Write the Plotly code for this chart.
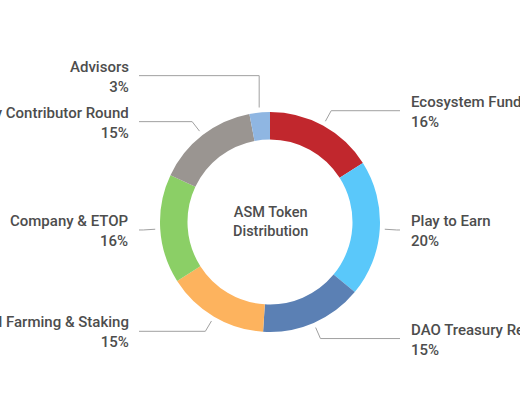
import math
import plotly.graph_objs as go

labels = ["Ecosystem Fund", "Play to Earn", "DAO Treasury Reserve",
          "Yield Farming & Staking", "Company & ETOP",
          "Early Contributor Round", "Advisors"]
shares = [16, 20, 15, 15, 16, 15, 3]
colors = ["#C1272D", "#5AC8FA", "#5B80B4", "#FDB35E", "#8BCF66", "#9A9591", "#8FB6E2"]

W, H = 520, 400
cx, cy, R = 270, 222, 110
font_main = "Roboto"
text_col = "#4d4d4d"

fig = go.Figure()
fig.add_trace(go.Pie(
    labels=labels, values=shares, sort=False, direction="clockwise", rotation=0,
    hole=0.75, marker=dict(colors=colors, line=dict(width=0)),
    textinfo="none", hoverinfo="label+percent", showlegend=False,
    domain=dict(x=[(cx - R) / W, (cx + R) / W], y=[1 - (cy + R) / H, 1 - (cy - R) / H]),
))

# leader lines + labels, placed from each slice's mid angle
total = sum(shares)
acc = 0
items = []
for name, v in zip(labels, shares):
    mid = (acc + v / 2) / total * 2 * math.pi
    acc += v
    sx, sy = cx + 115 * math.sin(mid), cy - 115 * math.cos(mid)
    ex, ey = cx + 127 * math.sin(mid), cy - 127 * math.cos(mid)
    side = "right" if math.sin(mid) > 0 else "left"
    items.append([name, v, sx, sy, ex, ey, side])

# push labels apart on each side (work from the bottom up)
for side in ("left", "right"):
    grp = sorted([it for it in items if it[6] == side], key=lambda it: -it[5])
    last = None
    for it in grp:
        if last is not None and last - it[5] < 46:
            it[5] = last - 46
            it[4] = it[2]
        last = it[5]

for name, v, sx, sy, ex, ey, side in items:
    lx = 400 if side == "right" else 139
    fig.add_shape(type="path", path=f"M {sx} {sy} L {ex} {ey} L {lx} {ey}",
                  xref="x", yref="y", line=dict(color="#a0a0a0", width=1))
    fig.add_annotation(x=lx + (9 if side == "right" else -8), y=ey + 1, xref="x", yref="y",
                       text=f"{name}<br>{v}%", showarrow=False,
                       xanchor="left" if side == "right" else "right",
                       align="left" if side == "right" else "right",
                       font=dict(family=font_main, size=15, color=text_col, weight=500))

fig.add_annotation(x=cx, y=cy, xref="x", yref="y", text="ASM Token<br>Distribution",
                   showarrow=False, font=dict(family=font_main, size=14.5, color=text_col, weight=500))

fig.update_layout(
    width=W, height=H, margin=dict(l=0, r=0, t=0, b=0),
    paper_bgcolor="white", plot_bgcolor="rgba(0,0,0,0)",
    xaxis=dict(range=[0, W], visible=False, fixedrange=True),
    yaxis=dict(range=[H, 0], visible=False, fixedrange=True),
)

fig.write_html("out.html", config={"displayModeBar": False},
               post_script="document.body.style.margin='0';")
